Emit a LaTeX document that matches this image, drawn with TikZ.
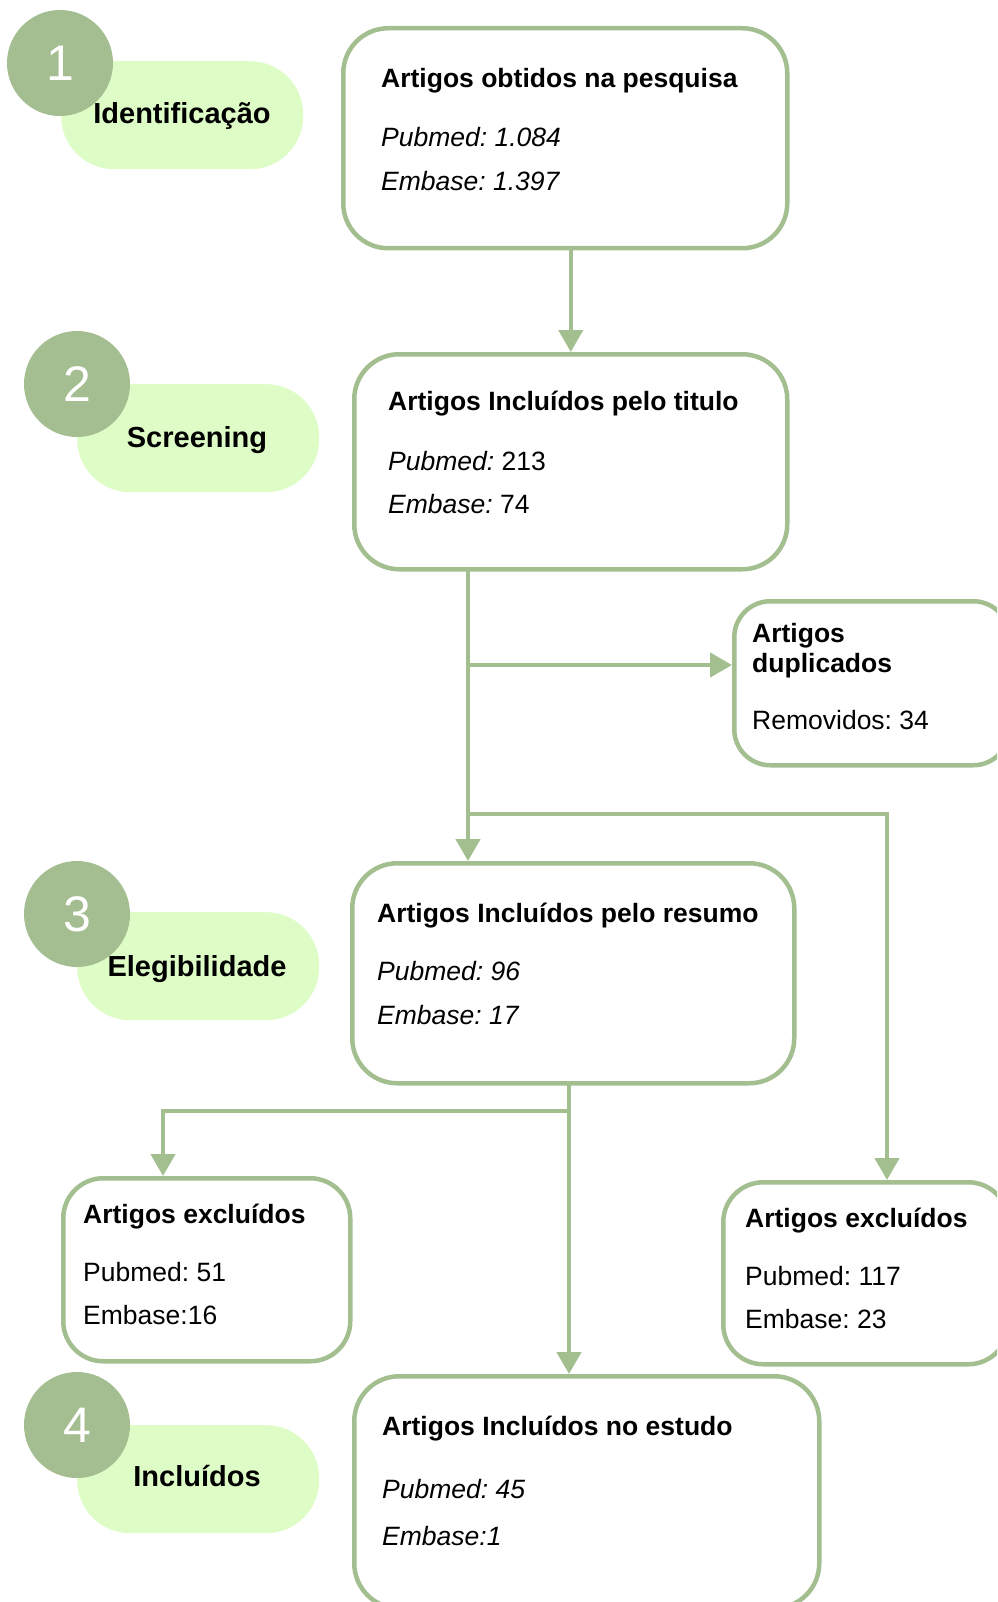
\documentclass[tikz,border=0pt]{standalone}
\usepackage{fontspec}
\setmainfont{Liberation Sans}
\usetikzlibrary{arrows.meta}
\definecolor{gline}{RGB}{163,190,143}
\definecolor{gcirc}{RGB}{165,190,145}
\definecolor{gpill}{RGB}{222,252,198}
\frenchspacing
\begin{document}
\begin{tikzpicture}[x=1pt,y=-1pt,
  box/.style={draw=gline, line width=4.5pt, fill=white, inner sep=0pt, anchor=north west},
  pill/.style={fill=gpill, rounded corners=53pt, inner sep=0pt, anchor=north west, minimum width=242pt, minimum height=108pt},
  numc/.style={circle, fill=gcirc, minimum size=106pt, inner sep=0pt, text=white, font=\fontsize{50}{50}\selectfont},
  stage/.style={anchor=base, inner sep=0pt, font=\fontsize{29}{34}\selectfont\bfseries},
  txt/.style={anchor=base west, inner sep=0pt, font=\fontsize{26.5}{30}\selectfont},
  arr/.style={draw=gline, line width=4.5pt, -{Triangle[length=22pt,width=24pt]}},
  lin/.style={draw=gline, line width=4.5pt}
]
\useasboundingbox (0,0) rectangle (997,1602);
\clip (0,0) rectangle (997,1602);

% stage pills
\node[pill] (p1) at (61,61) {};
\node[pill] (p2) at (77,384) {};
\node[pill] (p3) at (77,912) {};
\node[pill] (p4) at (77,1425) {};
\node[numc] (c1) at (60,63) {1};
\node[numc] (c2) at (77,384) {2};
\node[numc] (c3) at (77,914) {3};
\node[numc] (c4) at (77,1425) {4};
\node[stage] (l1) at (182,124) {Identificação};
\node[stage] (l2) at (197,447) {Screening};
\node[stage] (l3) at (197,976) {Elegibilidade};
\node[stage] (l4) at (197,1486) {Incluídos};

% boxes
\node[box, rounded corners=45pt, minimum width=444pt, minimum height=220pt] (b1) at (341,26) {};
\node[box, rounded corners=45pt, minimum width=433pt, minimum height=215pt] (b2) at (352,352) {};
\node[box, rounded corners=36pt, minimum width=275pt, minimum height=164pt] (dup) at (732,599) {};
\node[box, rounded corners=45pt, minimum width=442pt, minimum height=220pt] (b3) at (350,861) {};
\node[box, rounded corners=40pt, minimum width=287pt, minimum height=183pt] (exl) at (61,1176) {};
\node[box, rounded corners=40pt, minimum width=285pt, minimum height=182pt] (exr) at (721,1180) {};
\node[box, rounded corners=45pt, minimum width=465pt, minimum height=232pt] (b4) at (352,1374) {};

% box texts
\node[txt] (b1t) at (381,88) {\bfseries Artigos obtidos na pesquisa};
\node[txt] (b1p) at (381,147) {\itshape Pubmed: 1.084};
\node[txt] (b1e) at (381,191) {\itshape Embase: 1.397};

\node[txt] (b2t) at (388,410) {\bfseries Artigos Incluídos pelo titulo};
\node[txt] (b2p) at (388,470) {\itshape Pubmed:\upshape\ 213};
\node[txt] (b2e) at (388,513) {\itshape Embase:\upshape\ 74};

\node[txt] (d1) at (752,642) {\bfseries Artigos};
\node[txt] (d2) at (752,672) {\bfseries duplicados};
\node[txt] (d3) at (752,729) {Removidos: 34};

\node[txt] (b3t) at (377,922) {\bfseries Artigos Incluídos pelo resumo};
\node[txt] (b3p) at (377,980) {\itshape Pubmed: 96};
\node[txt] (b3e) at (377,1024) {\itshape Embase: 17};

\node[txt] (xlt) at (83,1223) {\bfseries Artigos excluídos};
\node[txt] (xlp) at (83,1281) {Pubmed: 51};
\node[txt] (xle) at (83,1324) {Embase:16};

\node[txt] (xrt) at (745,1227) {\bfseries Artigos excluídos};
\node[txt] (xrp) at (745,1285) {Pubmed: 117};
\node[txt] (xre) at (745,1328) {Embase: 23};

\node[txt] (b4t) at (382,1435) {\bfseries Artigos Incluídos no estudo};
\node[txt] (b4p) at (382,1498) {\itshape Pubmed: 45};
\node[txt] (b4e) at (382,1545) {\itshape Embase:1};

% connectors
\coordinate (s2) at (468,567);
\coordinate (j1) at (468,665);
\coordinate (j2) at (468,814);
\coordinate (k2) at (887,814);
\coordinate (s3) at (569,1081);
\coordinate (j3) at (569,1111);
\coordinate (k3) at (163,1111);

\draw[arr] (b1.south -| b2.north) -- (b2.north);
\draw[arr] (s2) -- (s2 |- b3.north);
\draw[arr] (j1) -- (j1 -| dup.west);
\draw[arr] (j2) -- (k2) -- (k2 |- exr.north);
\draw[arr] (s3) -- (s3 |- b4.north);
\draw[arr] (j3) -- (k3) -- (k3 |- exl.north);
\end{tikzpicture}
\end{document}
